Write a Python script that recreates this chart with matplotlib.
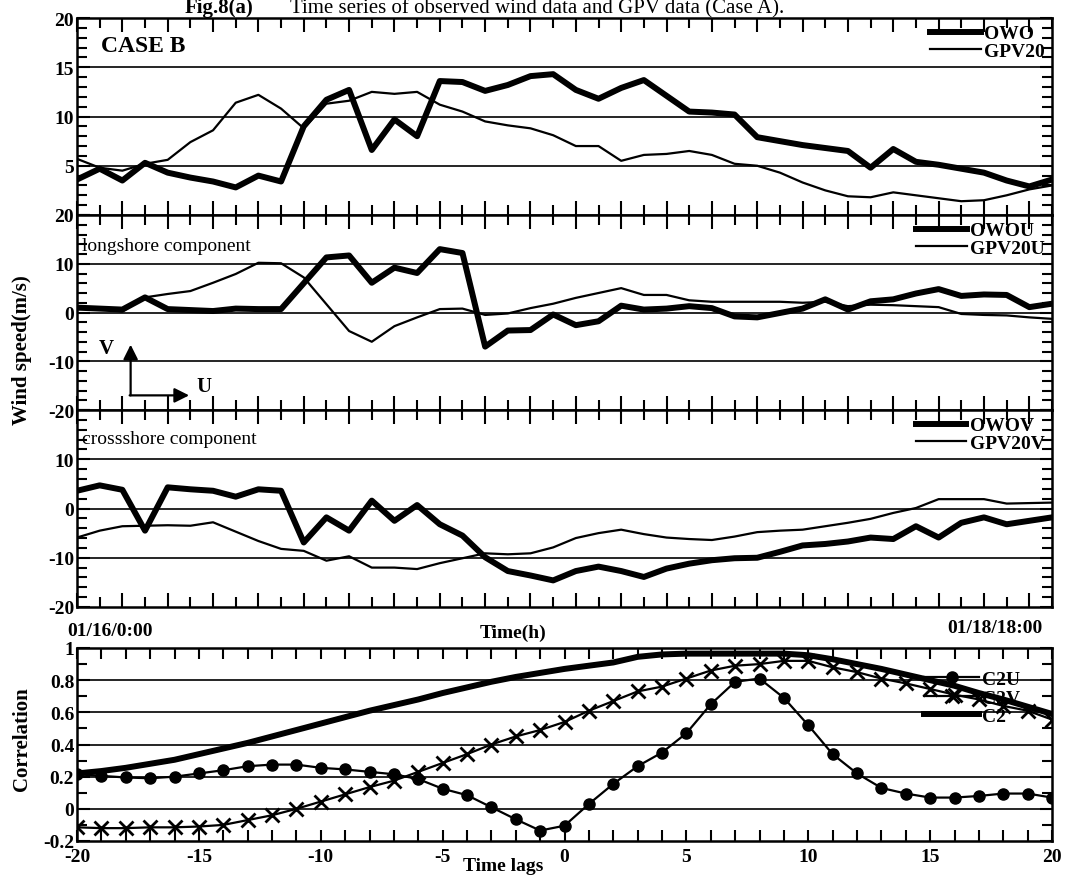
import numpy as np
import matplotlib
matplotlib.use('Agg')
import matplotlib.pyplot as plt
from matplotlib.lines import Line2D
from matplotlib.ticker import MultipleLocator

plt.rcParams['font.family'] = ['Liberation Serif', 'DejaVu Serif']
plt.rcParams['font.weight'] = 'bold'
plt.rcParams['axes.unicode_minus'] = False

# wind speed (m/s), one value per time step from 01/16 0:00 to 01/18 18:00
owo = [3.6, 4.7, 3.5, 5.3, 4.3, 3.8, 3.4, 2.8, 4.0, 3.4,
       9.0, 11.7, 12.7, 6.6, 9.7, 8.0, 13.6, 13.5, 12.6, 13.2,
       14.1, 14.3, 12.7, 11.8, 12.9, 13.7, 12.1, 10.5, 10.4, 10.2,
       7.9, 7.5, 7.1, 6.8, 6.5, 4.8, 6.7, 5.4, 5.1, 4.7,
       4.3, 3.5, 2.9, 3.6]
gpv20 = [5.7, 4.8, 4.5, 5.2, 5.6, 7.4, 8.6, 11.4, 12.2, 10.8,
         8.8, 11.3, 11.6, 12.5, 12.3, 12.5, 11.2, 10.5, 9.5, 9.1,
         8.8, 8.1, 7.0, 7.0, 5.5, 6.1, 6.2, 6.5, 6.1, 5.2,
         5.0, 4.3, 3.3, 2.5, 1.9, 1.8, 2.3, 2.0, 1.7, 1.4,
         1.5, 2.0, 2.6, 3.0]

# longshore (U) component
owo_u = [1.0, 0.8, 0.6, 3.1, 0.7, 0.5, 0.3, 0.8, 0.7, 0.7,
         6.0, 11.3, 11.7, 6.1, 9.2, 8.1, 13.0, 12.2, -7.0, -3.7,
         -3.6, -0.4, -2.6, -1.8, 1.4, 0.6, 0.8, 1.3, 0.9, -0.8,
         -1.0, -0.1, 0.8, 2.7, 0.6, 2.3, 2.7, 3.9, 4.8, 3.4,
         3.7, 3.6, 1.1, 1.8]
gpv20_u = [1.2, 0.8, 0.2, 3.1, 3.8, 4.4, 6.1, 7.9, 10.2, 10.1,
           7.2, 1.7, -3.8, -6.0, -2.8, -1.0, 0.7, 0.8, -0.5, -0.2,
           0.9, 1.8, 3.0, 4.0, 5.0, 3.6, 3.6, 2.5, 2.2, 2.2,
           2.2, 2.2, 2.0, 2.2, 1.3, 1.6, 1.5, 1.3, 1.1, -0.3,
           -0.5, -0.6, -1.0, -1.3]

# crossshore (V) component
owo_v = [3.6, 4.7, 3.8, -4.5, 4.3, 3.9, 3.6, 2.4, 3.9, 3.6,
         -6.9, -1.8, -4.5, 1.6, -2.5, 0.7, -3.2, -5.5, -9.9, -12.7,
         -13.6, -14.6, -12.7, -11.8, -12.7, -13.9, -12.2, -11.2, -10.5, -10.1,
         -10.0, -8.8, -7.5, -7.2, -6.7, -5.9, -6.2, -3.6, -5.9, -2.9,
         -1.8, -3.2, -2.5, -1.8]
gpv20_v = [-5.9, -4.5, -3.6, -3.5, -3.4, -3.5, -2.8, -4.7, -6.6, -8.2,
           -8.6, -10.6, -9.7, -12.0, -12.0, -12.3, -11.1, -10.1, -9.1, -9.3,
           -9.1, -7.9, -6.0, -5.0, -4.3, -5.2, -5.9, -6.2, -6.4, -5.7,
           -4.8, -4.5, -4.3, -3.6, -2.9, -2.1, -0.9, 0.1, 1.9, 1.9,
           1.9, 1.0, 1.1, 1.2]

# cross-correlation against time lag (h)
lags = list(range(-20, 21))
c2u = [0.215, 0.205, 0.195, 0.19, 0.20, 0.22, 0.24, 0.265, 0.275, 0.275,
       0.255, 0.245, 0.23, 0.215, 0.185, 0.125, 0.085, 0.01, -0.065, -0.135,
       -0.105, 0.03, 0.155, 0.265, 0.35, 0.47, 0.65, 0.79, 0.81, 0.69,
       0.52, 0.34, 0.22, 0.13, 0.095, 0.07, 0.07, 0.08, 0.095, 0.095, 0.07]
c2v = [-0.115, -0.12, -0.12, -0.115, -0.115, -0.11, -0.10, -0.07, -0.04, 0.0,
       0.045, 0.09, 0.135, 0.175, 0.23, 0.285, 0.34, 0.40, 0.45, 0.49,
       0.54, 0.61, 0.67, 0.73, 0.76, 0.81, 0.86, 0.89, 0.90, 0.92,
       0.92, 0.88, 0.85, 0.81, 0.78, 0.745, 0.71, 0.68, 0.64, 0.61, 0.555]
c2 = [0.22, 0.235, 0.255, 0.28, 0.305, 0.34, 0.375, 0.41, 0.45, 0.49,
      0.53, 0.57, 0.61, 0.645, 0.68, 0.72, 0.755, 0.79, 0.82, 0.845,
      0.87, 0.89, 0.91, 0.945, 0.96, 0.965, 0.965, 0.965, 0.965, 0.965,
      0.955, 0.93, 0.90, 0.87, 0.835, 0.80, 0.765, 0.72, 0.68, 0.635, 0.59]

W, H = 1079, 878
fig = plt.figure(figsize=(W / 100, H / 100), dpi=100)


def px_axes(left, top, right, bottom):
    return fig.add_axes([left / W, 1 - bottom / H, (right - left) / W, (bottom - top) / H])


def frame(ax, yticks, ylabels, yminor, grid):
    for s in ax.spines.values():
        s.set_linewidth(1.8)
    ax.set_yticks(yticks, ylabels)
    ax.set_ylim(yticks[0], yticks[-1])
    ax.yaxis.set_minor_locator(MultipleLocator(yminor))
    ax.tick_params(which='both', direction='in', top=True, right=True,
                   width=1.5, labelsize=14, pad=2)
    ax.tick_params(which='major', length=9)
    ax.tick_params(which='minor', length=7)
    for g in grid:
        ax.axhline(g, color='k', lw=1.2, zorder=1)


L, R = 77, 1052
ax1 = px_axes(L, 19, R, 216)
ax2 = px_axes(L, 216, R, 411)
ax3 = px_axes(L, 411, R, 608)
ax4 = px_axes(L, 649, R, 842)

t = np.arange(len(owo))
thick = dict(color='k', lw=4.3, zorder=3)
thin = dict(color='k', lw=1.6, zorder=3)

panels = [
    (ax1, owo, gpv20, 'OWO', 'GPV20',
     [0, 5, 10, 15, 20], ['', '5', '10', '15', '20'], 1, [5, 10, 15]),
    (ax2, owo_u, gpv20_u, 'OWOU', 'GPV20U',
     [-20, -10, 0, 10, 20], ['-20', '-10', '0', '10', '20'], 2, [-10, 0, 10]),
    (ax3, owo_v, gpv20_v, 'OWOV', 'GPV20V',
     [-20, -10, 0, 10, 20], ['-20', '-10', '0', '10', ''], 2, [-10, 0, 10]),
]
for ax, obs, gpv, obs_name, gpv_name, yt, yl, ymin, grid in panels:
    frame(ax, yt, yl, ymin, grid)
    ax.plot(t, gpv, **thin)
    ax.plot(t, obs, **thick)
    ax.set_xlim(t[0], t[-1])
    ax.xaxis.set_major_locator(MultipleLocator(2))
    ax.xaxis.set_minor_locator(MultipleLocator(1))
    ax.tick_params(axis='x', which='major', length=10)
    ax.tick_params(axis='x', labelbottom=False)
    handles = [Line2D([], [], **thick), Line2D([], [], **thin)]
    ax.legend(handles, [obs_name, gpv_name], loc='upper right', frameon=False,
              fontsize=14, handlelength=2.6, handletextpad=0.2,
              labelspacing=0.0, borderaxespad=0.15, borderpad=0.2)

ax1.text(0.025, 0.83, 'CASE B', transform=ax1.transAxes, fontsize=17,
         fontweight='bold', va='baseline')
ax2.text(0.005, 0.82, 'longshore component', transform=ax2.transAxes,
         fontsize=14, fontweight='normal', va='baseline')
ax3.text(0.005, 0.835, 'crossshore component', transform=ax3.transAxes,
         fontsize=14, fontweight='normal', va='baseline')

# U / V direction arrows
arrow = dict(arrowstyle='-|>', lw=1.6, color='k', mutation_scale=22, shrinkA=0, shrinkB=0)
ax2.annotate('', xy=(0.055, 0.335), xytext=(0.055, 0.075),
             xycoords='axes fraction', arrowprops=arrow)
ax2.annotate('', xy=(0.115, 0.075), xytext=(0.054, 0.075),
             xycoords='axes fraction', arrowprops=arrow)
ax2.text(0.022, 0.29, 'V', transform=ax2.transAxes, fontsize=15, fontweight='bold')
ax2.text(0.122, 0.10, 'U', transform=ax2.transAxes, fontsize=15, fontweight='bold')

# correlation panel
frame(ax4, [-0.2, 0, 0.2, 0.4, 0.6, 0.8, 1.0],
      ['-0.2', '0', '0.2', '0.4', '0.6', '0.8', '1'], 0.1, [0, 0.2, 0.4, 0.6, 0.8])
ax4.set_xlim(-20, 20)
ax4.xaxis.set_major_locator(MultipleLocator(5))
ax4.xaxis.set_minor_locator(MultipleLocator(1))
ax4.tick_params(axis='x', which='both', length=8, pad=5)
l_u, = ax4.plot(lags, c2u, color='k', lw=1.6, marker='o', ms=8, zorder=4)
l_v, = ax4.plot(lags, c2v, color='k', lw=1.6, marker='x', ms=10, mew=2, zorder=4)
l_c, = ax4.plot(lags, c2, color='k', lw=4.3, zorder=4)
leg = ax4.legend([l_u, l_v, l_c], ['C2U', 'C2V', 'C2'], loc='upper right',
                 bbox_to_anchor=(0.985, 0.975), frameon=False, fontsize=14,
                 handlelength=2.8, handletextpad=0.15, labelspacing=0.05)
leg.set_zorder(2)

# shared labels
fig.text(185 / W, 1 - 13 / H, 'Fig.8(a)', fontsize=15, fontweight='bold', va='baseline')
fig.text(290 / W, 1 - 13 / H, 'Time series of observed wind data and GPV data (Case A).',
         fontsize=15, fontweight='normal', va='baseline')
fig.text(22 / W, 1 - 350 / H, 'Wind speed(m/s)', rotation=90, fontsize=15,
         fontweight='bold', ha='center', va='center')
fig.text(22 / W, 1 - 739 / H, 'Correlation', rotation=90, fontsize=15,
         fontweight='bold', ha='center', va='center')
fig.text(67 / W, 1 - 636 / H, '01/16/0:00', fontsize=14, fontweight='bold', va='baseline')
fig.text(513 / W, 1 - 638 / H, 'Time(h)', fontsize=14, fontweight='bold',
         ha='center', va='baseline')
fig.text(1042 / W, 1 - 633 / H, '01/18/18:00', fontsize=14, fontweight='bold',
         ha='right', va='baseline')
fig.text(503 / W, 1 - 871 / H, 'Time lags', fontsize=14, fontweight='bold',
         ha='center', va='baseline')

fig.savefig('out.png', dpi=100)
